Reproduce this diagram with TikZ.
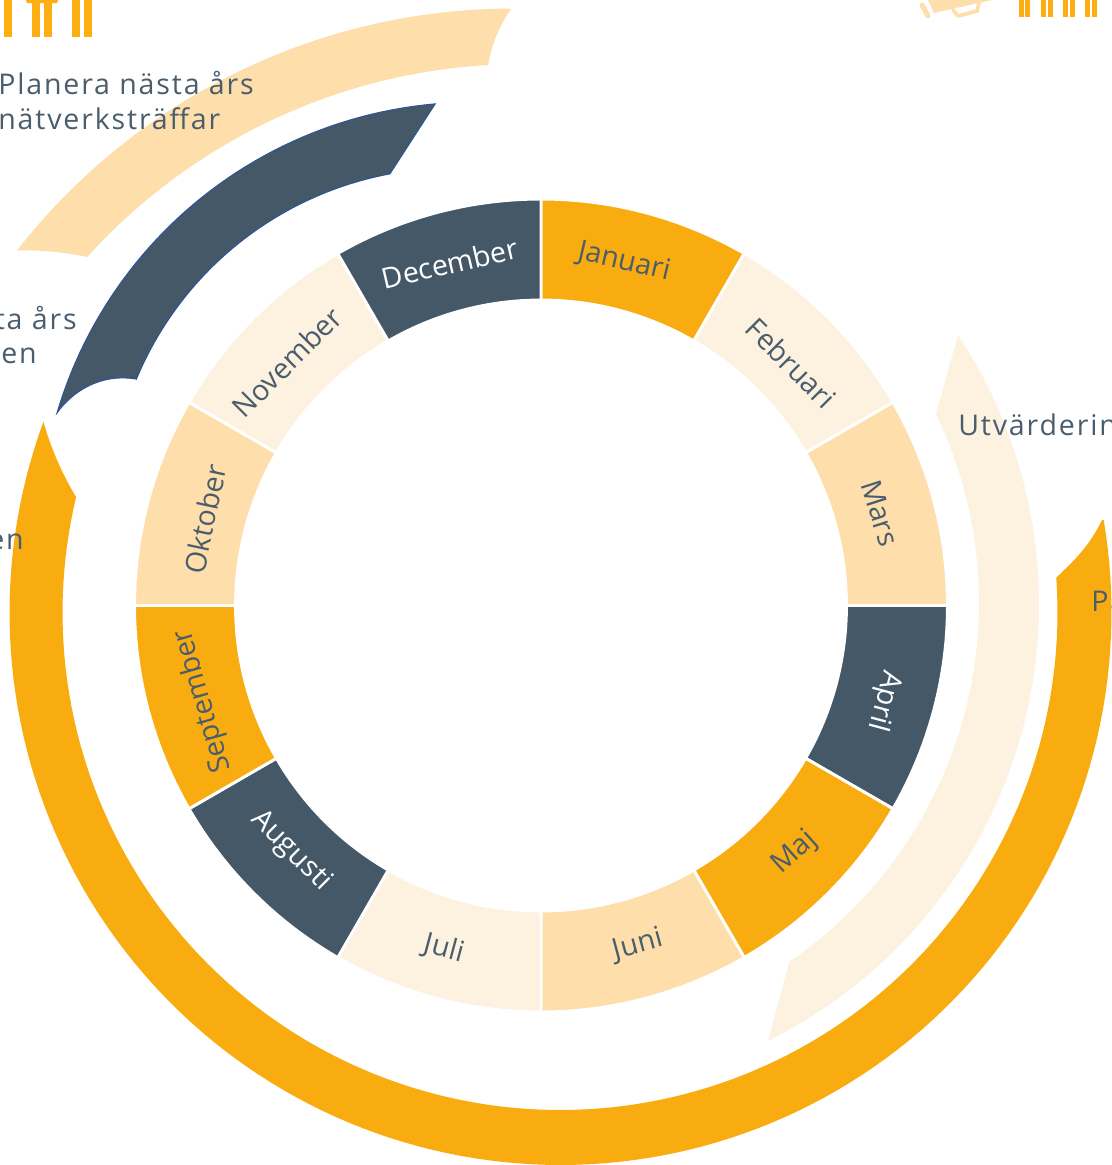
\documentclass[tikz,border=0pt]{standalone}
\usepackage{fontspec}
\setmainfont{Open Sans}
\newfontfamily\sidefont[LetterSpace=6.5]{Open Sans}
\definecolor{orangeC}{HTML}{F9AC10}
\definecolor{peachC}{HTML}{FEDEAB}
\definecolor{creamC}{HTML}{FDF1E0}
\definecolor{navyC}{HTML}{445868}
\definecolor{navyE}{HTML}{2F5597}
\definecolor{textC}{HTML}{4A5D6D}
\definecolor{barC}{HTML}{FCAE12}
\tikzset{
  x=.75pt,y=-.75pt,
  month/.style={font=\fontsize{21.5pt}{25pt}\selectfont,text=textC,inner sep=0pt},
  monthw/.style={month,text=white},
  sidetext/.style={font=\fontsize{21.4pt}{25pt}\sidefont,text=textC,inner sep=0pt,anchor=base west},
  sidetexte/.style={sidetext,anchor=base east},
}
\newcommand{\sector}[3]{%
  \filldraw[fill=#1,draw=white,line width=2.2pt,line join=miter]
    plot[domain=#2:#3,samples=25] ({541+406.5*cos(\x)},{605.5-406.5*sin(\x)})
    -- plot[domain=#3:#2,samples=25] ({541+305.5*cos(\x)},{605.5-305.5*sin(\x)}) -- cycle;}
\begin{document}
\begin{tikzpicture}
\useasboundingbox (0,0) rectangle (1112,1165);
% month ring
\sector{orangeC}{90}{60}
\sector{creamC}{60}{30}
\sector{peachC}{30}{0}
\sector{navyC}{0}{-30}
\sector{orangeC}{-30}{-60}
\sector{peachC}{-60}{-90}
\sector{creamC}{-90}{-120}
\sector{navyC}{-120}{-150}
\sector{orangeC}{-150}{-180}
\sector{peachC}{-180}{-210}
\sector{creamC}{-210}{-240}
\sector{navyC}{-240}{-270}
% large orange band
\fill[orangeC] plot[domain=9.63:-200.2,samples=140] ({560.5+551*cos(\x)},{612.5-552.5*sin(\x)})
  .. controls (50,445) and (60,470) .. (76,497)
  -- plot[domain=-193.37:4.03,samples=140] ({560+497.5*cos(\x)},{612.5-497.5*sin(\x)})
  .. controls (1075,560) and (1090,545) .. (1102,520) -- cycle;
% cream band
\fill[creamC] plot[domain=33.5:-63.6,samples=70] ({551.4+487.6*cos(\x)},{604-487.6*sin(\x)})
  -- plot[domain=-55.7:25.7,samples=70] ({544+435*cos(\x)},{602.6-435*sin(\x)}) -- cycle;
% peach band
\fill[peachC] plot[domain=90.2:142,samples=50] ({513+629.5*cos(\x)},{638-629.5*sin(\x)})
  .. controls (40,250) and (65,252) .. (87,257)
  -- plot[domain=137.9:93.3,samples=50] ({522+586.4*cos(\x)},{650.4-586.4*sin(\x)})
  .. controls (491,45) and (500,25) .. (511,9) -- cycle;
% navy band
\filldraw[fill=navyC,draw=navyE,line width=.8pt,line join=miter]
  plot[domain=95:163.5,samples=50] ({473+433.8*cos(\x)},{536-433.8*sin(\x)})
  .. controls (72,392) and (100,373) .. (136,379)
  -- plot[domain=157.4:100.6,samples=50] ({453+343*cos(\x)},{511-343*sin(\x)}) -- cycle;
% top-left bars
\fill[barC] (4,0) rectangle (12,37);
\fill[barC] (32,0) rectangle (40,37);
\fill[barC] (44,0) rectangle (52,37);
\fill[barC] (72,0) rectangle (80,37);
\fill[barC] (84,0) rectangle (92,37);
\fill[barC] (26,0) -- (58,0) -- (57,3) -- (27,3) -- cycle;
% top-right bars
\foreach \bx in {1019,1025,1041,1048,1063,1070,1085,1092}{\fill[barC] (\bx,0) rectangle ++(5,17);}
% megaphone
\draw[peachC,line width=3.8pt,line cap=round] (922,5) -- (928,16);
\fill[peachC] (928,0) -- (934,13) -- (992,0) -- cycle;
\draw[peachC,line width=2.8pt,line join=round,line cap=round] (953,10) -- (958,16) -- (977,11) -- (979,3);
% months
\node[month,rotate=-13] (jan) at (624,262) {Januari};
\node[month,rotate=-45] (feb) at (791,363) {Februari};
\node[month,rotate=-72] (mar) at (880,513) {Mars};
\node[monthw,rotate=-105] (apr) at (884,701) {April};
\node[month,rotate=42] (maj) at (795,853) {Maj};
\node[month,rotate=15] (jun) at (638,945) {Juni};
\node[month,rotate=-15] (jul) at (444,949) {Juli};
\node[monthw,rotate=-45] (aug) at (291,851) {Augusti};
\node[month,rotate=106] (sep) at (203,701) {September};
\node[month,rotate=78] (okt) at (205,519) {Oktober};
\node[month,rotate=45] (nov) at (287,362) {November};
\node[monthw,rotate=13] (dec) at (450,263) {December};
% side texts
\node[sidetext] (t1) at (-2,94) {Planera nästa års};
\node[sidetext] (t2) at (-2,129) {nätverksträffar};
\node[sidetexte] (t3) at (77,329) {ta års};
\node[sidetexte] (t4) at (37,363) {en};
\node[sidetexte] (t5) at (24,549) {en};
\node[sidetext] (t6) at (958,435) {Utvärderin};
\node[sidetext] (t7) at (1091,611) {Pa};
\end{tikzpicture}
\end{document}
